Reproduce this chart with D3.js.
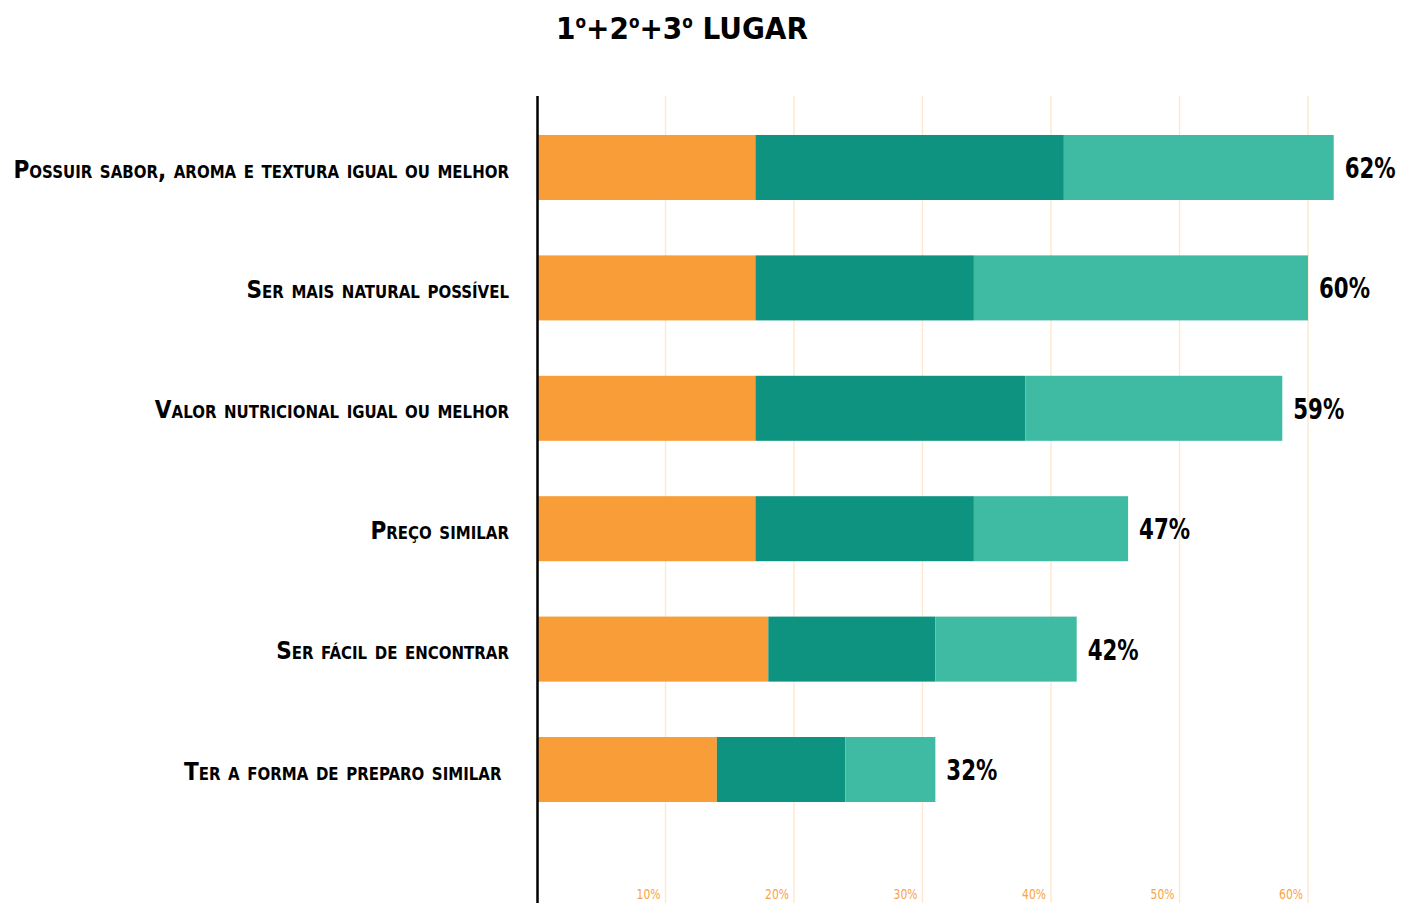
<!DOCTYPE html>
<html>
<head>
<meta charset="utf-8">
<script src="https://cdn.jsdelivr.net/npm/d3@7"></script>
<style>
  body { margin: 0; background: #fff; }
  svg { display: block; }
  .label { font-family: "DejaVu Sans", sans-serif; font-stretch: condensed; font-weight: bold; font-variant: small-caps; fill: #000; white-space: pre; }
  .value { font-family: "DejaVu Sans", sans-serif; font-stretch: condensed; font-weight: bold; fill: #000; }
  .tick-label { font-family: "DejaVu Sans", sans-serif; font-stretch: condensed; fill: #f8a446; }
  .title { font-family: "DejaVu Sans", sans-serif; font-stretch: condensed; font-weight: bold; fill: #000; }
</style>
</head>
<body>
<svg></svg>
<script>
const categories = [
    "Possuir sabor, aroma e textura igual ou melhor",
    "Ser mais natural possível",
    "Valor nutricional igual ou melhor",
    "Preço similar",
    "Ser fácil de encontrar",
    "Ter a forma de preparo similar\u00a0"
]
const primeiro = [17, 17, 17, 17, 18, 14]
const segundo = [24, 17, 21, 17, 13, 10]
const terceiro = [21, 26, 20, 12, 11, 7]
const totalLabels = ["62%", "60%", "59%", "47%", "42%", "32%"]
const ticks = [10, 20, 30, 40, 50, 60]
const colors = ["#f89d38", "#0e9380", "#3ebba2"]

const width = 1407
const height = 903

const svg = d3.select("svg")
    .attr("width", width)
    .attr("height", height)

const x = d3.scaleLinear()
    .domain([0, 60])
    .range([537, 1308])

const y = d3.scaleBand()
    .domain(categories)
    .range([79.6, 857.4])
    .padding(0.46)

// squeeze text horizontally so it reads like the condensed face in the original
function squeeze(sel, refWidth) {
    const w = sel.node().getComputedTextLength()
    return refWidth / w
}

// grid
svg.append("g")
    .selectAll("line")
    .data(ticks)
    .enter()
    .append("line")
    .attr("x1", d => x(d))
    .attr("x2", d => x(d))
    .attr("y1", 96)
    .attr("y2", height)
    .style("stroke", "#fde9d3")
    .style("stroke-width", 1.5)

const tickText = svg.append("g")
    .selectAll("text")
    .data(ticks)
    .enter()
    .append("text")
    .attr("class", "tick-label")
    .style("font-size", "14px")
    .attr("text-anchor", "end")
    .text(d => d + "%")
const kt = squeeze(tickText.filter((d, i) => i === 0), 24)
tickText.attr("transform", d => `translate(${x(d) - 5},899) scale(${kt},1)`)

// stacked rows
const rows = categories.map((c, i) => ({
    cat: c,
    parts: [primeiro[i], segundo[i], terceiro[i]],
    label: totalLabels[i]
}))

const rowGroup = svg.selectAll("g.row")
    .data(rows)
    .enter()
    .append("g")
    .attr("class", "row")
    .attr("transform", d => `translate(0,${y(d.cat)})`)

rowGroup.selectAll("rect")
    .data(d => {
        let acc = 0
        return d.parts.map((v, j) => {
            const s = acc
            acc += v
            return { start: s, end: acc, j: j }
        })
    })
    .enter()
    .append("rect")
    .attr("x", d => x(d.start))
    .attr("width", d => x(d.end) - x(d.start))
    .attr("y", 0)
    .attr("height", y.bandwidth())
    .style("fill", d => colors[d.j])

const values = rowGroup.append("text")
    .attr("class", "value")
    .attr("dy", "0.36em")
    .style("font-size", "29px")
    .text(d => d.label)
const kv = squeeze(values.filter((d, i) => i === 0), 51)
values.attr("transform", d => `translate(${x(d3.sum(d.parts)) + 11},${y.bandwidth() / 2}) scale(${kv},1)`)

const labels = rowGroup.append("text")
    .attr("class", "label")
    .attr("dy", "0.4em")
    .attr("text-anchor", "end")
    .style("font-size", "25px")
    .text(d => d.cat)
const kl = squeeze(labels.filter((d, i) => i === 0), 512)
labels.attr("transform", `translate(509,${y.bandwidth() / 2}) scale(${kl},1)`)

// axis line
svg.append("line")
    .attr("x1", 537.5)
    .attr("x2", 537.5)
    .attr("y1", 96)
    .attr("y2", height)
    .style("stroke", "#000")
    .style("stroke-width", 2.5)

// title
const title = svg.append("text")
    .attr("class", "title")
    .attr("text-anchor", "middle")
    .style("font-size", "31px")

const titleParts = [["1", false], ["o", true], ["+2", false], ["o", true], ["+3", false], ["o", true], [" LUGAR", false]]
titleParts.forEach(p => {
    title.append("tspan")
        .attr("baseline-shift", p[1] ? "62%" : null)
        .style("font-size", p[1] ? "17px" : null)
        .text(p[0])
})
const kTitle = squeeze(title, 252)
title.attr("transform", `translate(682,39) scale(${kTitle},1)`)
</script>
</body>
</html>
